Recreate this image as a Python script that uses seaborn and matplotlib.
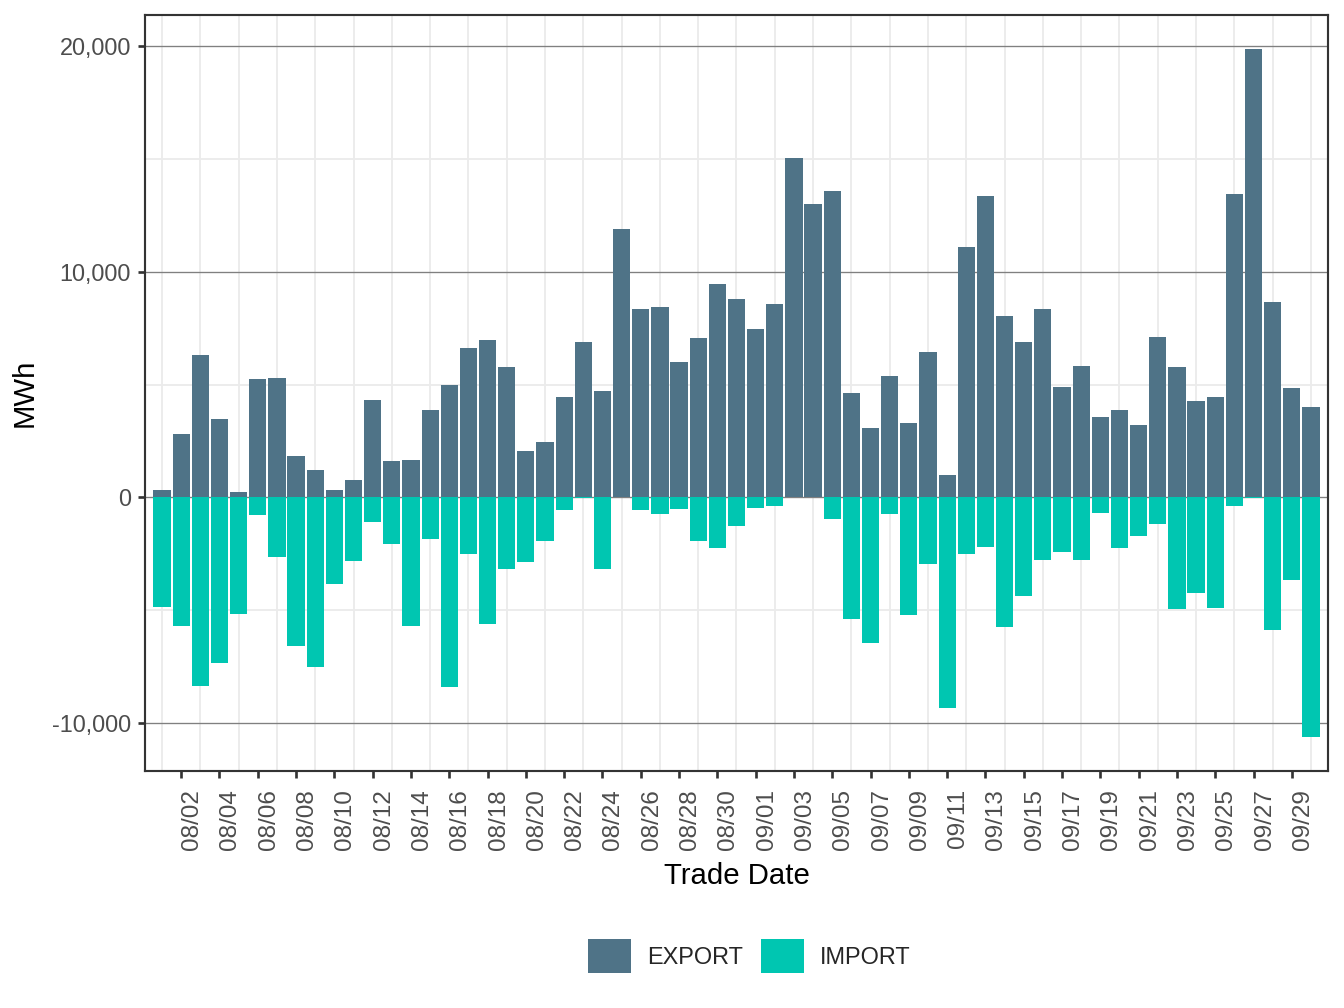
import matplotlib
matplotlib.use("Agg")
import matplotlib.pyplot as plt
import seaborn as sns
import pandas as pd
import numpy as np
from matplotlib.ticker import FuncFormatter, FixedLocator

# ---- data ----
dates = pd.date_range("2023-08-01", "2023-09-30", freq="D").strftime("%m/%d").tolist()

export_mwh = [330, 2820, 6320, 3470, 250, 5250, 5290, 1840, 1220, 330,
              780, 4310, 1620, 1660, 3880, 5000, 6620, 6980, 5790, 2080,
              2480, 4460, 6890, 4730, 11880, 8350, 8430, 6010, 7060, 9460,
              8780, 7470, 8560, 15050, 13020, 13600, 4650, 3060, 5390, 3280,
              6450, 980, 11080, 13350, 8040, 6900, 8350, 4910, 5830, 3570,
              3880, 3190, 7110, 5790, 4280, 4470, 13440, 19860, 8670, 4850,
              4020]

import_mwh = [-4850, -5690, -8340, -7320, -5160, -770, -2660, -6570, -7500, -3830,
              -2810, -1080, -2060, -5690, -1860, -8380, -2520, -5610, -3180, -2870,
              -1940, -570, -40, -3180, 0, -570, -740, -520, -1940, -2250,
              -1270, -470, -360, 0, 0, -960, -5400, -6470, -740, -5190,
              -2970, -9340, -2500, -2180, -5760, -4360, -2780, -2420, -2780, -670,
              -2250, -1690, -1160, -4950, -4240, -4910, -370, -40, -5870, -3660,
              -10600]

series = ["EXPORT", "IMPORT"]
colors = {"EXPORT": "#4F7387", "IMPORT": "#00C6B1"}

df = pd.DataFrame({
    "Trade Date": dates * 2,
    "MWh": export_mwh + import_mwh,
    "type": ["EXPORT"] * len(dates) + ["IMPORT"] * len(dates),
})

# ---- style ----
sns.set_style("white")
plt.rcParams["font.family"] = ["Liberation Sans", "DejaVu Sans"]

fig = plt.figure(figsize=(7, 5.25), dpi=192)
ax = fig.add_axes([145/1344, 1-771/1008, (1328-145)/1344, (771-15)/1008])

sns.barplot(data=df, x="Trade Date", y="MWh", hue="type", hue_order=series,
            palette=colors, dodge=False, width=0.9, saturation=1,
            linewidth=0, order=dates, ax=ax)

# axes limits
n = len(dates)
ax.set_xlim(-0.89, n - 1 + 0.89)
lo, hi = min(import_mwh), max(export_mwh)
pad = (hi - lo) * 0.05
ax.set_ylim(lo - pad, hi + pad)

# ticks
ax.xaxis.set_major_locator(FixedLocator(list(range(1, n, 2))))
ax.set_xticklabels(dates[1::2])
ax.xaxis.set_minor_locator(FixedLocator(list(range(0, n, 2))))
ax.yaxis.set_major_locator(FixedLocator([-10000, 0, 10000, 20000]))
ax.yaxis.set_minor_locator(FixedLocator([-5000, 5000, 15000]))
ax.yaxis.set_major_formatter(FuncFormatter(lambda v, p: f"{v:,.0f}"))

ax.tick_params(axis="both", which="major", length=2.75, width=1.0, color="#333333",
               labelsize=8.8, labelcolor="#4D4D4D", pad=2.5, direction="out")
ax.tick_params(which="minor", length=0)
ax.tick_params(axis="x", which="major", bottom=True, labelrotation=90, pad=4,
               labelsize=9.1)
ax.tick_params(axis="y", which="major", left=True)
for lab in ax.get_xticklabels():
    lab.set_ha("left")
    lab.set_va("top")

# grid
ax.set_axisbelow(True)
ax.grid(False)
ax.grid(which="minor", axis="x", color="#EBEBEB", linewidth=0.7)
ax.grid(which="minor", axis="y", color="#EBEBEB", linewidth=0.7)
ax.grid(which="major", axis="y", color="#808080", linewidth=0.5)

for s in ax.spines.values():
    s.set_visible(True)
    s.set_color("#333333")
    s.set_linewidth(0.8)

ax.set_xlabel("Trade Date", fontsize=11, color="black", labelpad=4.5)
ax.set_ylabel("MWh", fontsize=11, color="black", labelpad=5)

# legend
handles, labels = ax.get_legend_handles_labels()
if ax.legend_ is not None:
    ax.legend_.remove()
fig.legend(handles, labels, loc="center", bbox_to_anchor=(749/1344, 1-956/1008),
           ncol=2, frameon=False, fontsize=8.8, handlelength=1.83, handleheight=1.83,
           handletextpad=0.68, columnspacing=0.77, borderpad=0)

fig.savefig("out.png", dpi=192)
